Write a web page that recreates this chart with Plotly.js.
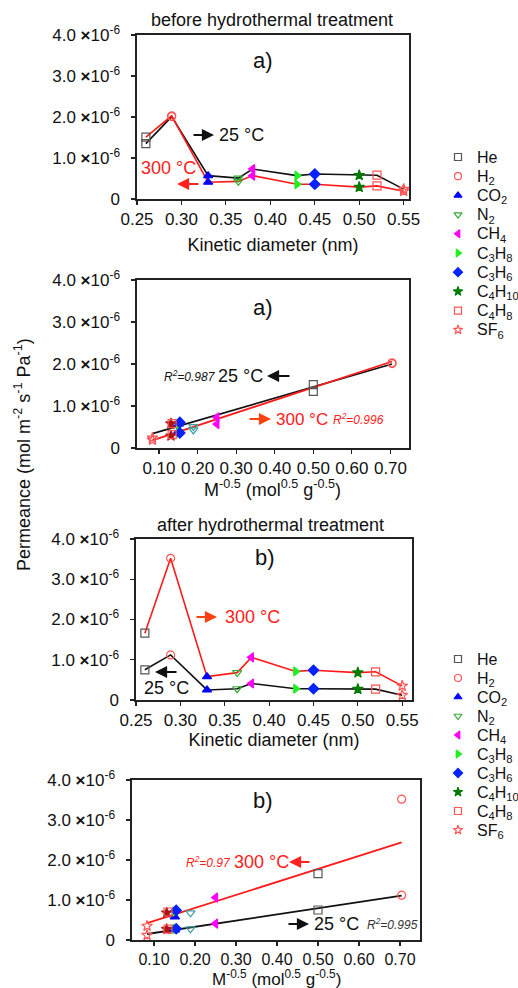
<!DOCTYPE html>
<html>
<head>
<meta charset="utf-8">
<script src="https://cdn.plot.ly/plotly-3.0.1.min.js"></script>
<style>
html,body{margin:0;padding:0;background:#fff;}
#chart{width:518px;height:988px;}
</style>
</head>
<body>
<div id="chart"></div>
<script>
// ---------------- data ----------------
const gases = ['He', 'H<sub>2</sub>', 'CO<sub>2</sub>', 'N<sub>2</sub>', 'CH<sub>4</sub>', 'C<sub>3</sub>H<sub>8</sub>', 'C<sub>3</sub>H<sub>6</sub>', 'C<sub>4</sub>H<sub>10</sub>', 'C<sub>4</sub>H<sub>8</sub>', 'SF<sub>6</sub>'];
const kineticDiameter = [0.26, 0.289, 0.33, 0.364, 0.38, 0.43, 0.45, 0.50, 0.52, 0.55];   // nm
const invSqrtM = [0.500, 0.704, 0.151, 0.189, 0.250, 0.151, 0.154, 0.131, 0.134, 0.083];    // mol^0.5 g^-0.5
// permeance, units of 1e-6 mol m-2 s-1 Pa-1
const before25  = [1.35, 2.01, 0.57, 0.51, 0.73, 0.57, 0.61, 0.58, 0.58, 0.24];
const before300 = [1.51, 2.03, 0.41, 0.43, 0.57, 0.36, 0.36, 0.29, 0.32, 0.19];
const after25   = [0.75, 1.12, 0.25, 0.28, 0.41, 0.28, 0.28, 0.27, 0.27, 0.12];
const after300  = [1.66, 3.52, 0.58, 0.68, 1.06, 0.71, 0.74, 0.68, 0.70, 0.35];
// fitted lines (end points)
const fitX = [0.083, 0.704];
const fitBefore25  = [0.34, 2.00];
const fitBefore300 = [0.18, 2.06];
const fitAfter25   = [0.15, 1.11];
const fitAfter300  = [0.42, 2.44];
const yTickVals = [0, 1, 2, 3, 4];
const yTickText = ['0', '1.0 <b>×</b>10<sup>-6</sup>', '2.0 <b>×</b>10<sup>-6</sup>', '3.0 <b>×</b>10<sup>-6</sup>', '4.0 <b>×</b>10<sup>-6</sup>'];

// ---------------- styles ----------------
const E6 = 1e-6;
const sc = a => a.map(v => v * E6);
const symbols = ['square-open','circle-open','triangle-up','triangle-down-open','triangle-left','triangle-right','diamond','star','square-open','star-open'];
const colorsKD = ['#555555','#ff5555','#0000ff','#33aa33','#ff00ff','#22ee22','#0022ff','#007a00','#ff5555','#ff5555'];
const colorsM  = ['#555555','#ff5555','#0000ff','#3aa0a0','#ff00ff','#22ee22','#0022ff','#aa1515','#ff5555','#ff5555'];
const W = 518, H = 988;
const FONT = 'Liberation Sans, Arial, Helvetica, sans-serif';

const traces = [];
function panel(xa, ya, xs, y25, y300, lines, colors) {
  if (lines === 'connect') {
    traces.push({x: xs, y: sc(y25), xaxis: xa, yaxis: ya, mode: 'lines', line: {color: '#111', width: 1.6}, hoverinfo: 'skip'});
    traces.push({x: xs, y: sc(y300), xaxis: xa, yaxis: ya, mode: 'lines', line: {color: '#ff1a1a', width: 1.6}, hoverinfo: 'skip'});
  } else {
    traces.push({x: fitX, y: sc(lines[0]), xaxis: xa, yaxis: ya, mode: 'lines', line: {color: '#111', width: 1.8}, hoverinfo: 'skip'});
    traces.push({x: fitX, y: sc(lines[1]), xaxis: xa, yaxis: ya, mode: 'lines', line: {color: '#ff1a1a', width: 1.8}, hoverinfo: 'skip'});
  }
  gases.forEach((g, i) => {
    traces.push({
      x: [xs[i], xs[i]], y: [y25[i] * E6, y300[i] * E6], xaxis: xa, yaxis: ya,
      mode: 'markers', name: g, cliponaxis: false,
      marker: {symbol: symbols[i], color: colors[i], size: 8, line: {color: colors[i], width: 1.2}}
    });
  });
}
panel('x', 'y', kineticDiameter, before25, before300, 'connect', colorsKD);
panel('x2', 'y2', invSqrtM, before25, before300, [fitBefore25, fitBefore300], colorsM);
panel('x3', 'y3', kineticDiameter, after25, after300, 'connect', colorsKD);
panel('x4', 'y4', invSqrtM, after25, after300, [fitAfter25, fitAfter300], colorsM);

// legend keys: a marker column on small category axes, gas names as tick labels
function legendKeys(xa, ya) {
  traces.push({x: gases.map(() => 0), y: gases, xaxis: xa, yaxis: ya, mode: 'markers', cliponaxis: false, hoverinfo: 'skip',
    marker: {symbol: symbols, size: 7, color: colorsKD, line: {color: colorsKD, width: 1.2}}});
}
legendKeys('x5', 'y5');
legendKeys('x6', 'y6');

const dx = (a, b) => [a / W, b / W];
const dy = (t, b) => [1 - b / H, 1 - t / H];
const baseAx = {showline: true, mirror: true, linecolor: '#222', linewidth: 1.6, ticks: 'outside', ticklen: 4, tickwidth: 1.2, tickcolor: '#222', showgrid: false, zeroline: false, tickfont: {size: 17, color: '#111'}};
function xAx(dom, range, tick0, dtick, title, anchor, standoff) {
  const ax = Object.assign({}, baseAx, {domain: dom, range: range, tick0: tick0, dtick: dtick, tickformat: '.2f', anchor: anchor});
  if (title) ax.title = {text: title, font: {size: 18, color: '#111'}, standoff: standoff};
  return ax;
}
function yAx(dom, anchor) {
  return Object.assign({}, baseAx, {domain: dom, range: [0, 4e-6], tickmode: 'array', tickvals: yTickVals.map(v => v * E6), ticktext: yTickText, anchor: anchor, ticklabelstandoff: 8});
}
function keyX(anchor) {
  return {domain: dx(450, 466), range: [-1, 1], visible: false, anchor: anchor, fixedrange: true};
}
function keyY(dom, anchor) {
  return {domain: dom, type: 'category', categoryarray: gases, categoryorder: 'array', range: [9.5, -0.5], side: 'right', anchor: anchor,
    tickmode: 'array', tickvals: gases, ticktext: gases,
    showline: false, showgrid: false, zeroline: false, ticks: '', ticklabelstandoff: 10, tickfont: {size: 16, color: '#111'}};
}
const kdTitle = 'Kinetic diameter (nm)';
const mTitle = 'M<sup>-0.5</sup> (mol<sup>0.5</sup> g<sup>-0.5</sup>)';

function txt(x, y, text, size, color, extra) {
  return Object.assign({xref: 'paper', yref: 'paper', x: x / W, y: 1 - y / H, text: text, showarrow: false, xanchor: 'center', yanchor: 'middle',
    font: {size: size, color: color, family: FONT}}, extra || {});
}
function arrow(hx, y, tx, color) {
  return {xref: 'paper', yref: 'paper', x: hx / W, y: 1 - y / H, ax: tx - hx, ay: 0, axref: 'pixel', ayref: 'pixel', text: '', showarrow: true,
    arrowhead: 2, arrowsize: 1.1, arrowwidth: 2.2, arrowcolor: color};
}
const RED = '#ff2020', ORANGE = '#ff4010';
const annotations = [
  txt(272, 20, 'before hydrothermal treatment', 18, '#111'),
  txt(263, 60, 'a)', 22, '#111'),
  arrow(214, 135, 192, '#111'),
  txt(217, 135, '25 °C', 18, '#111', {xanchor: 'left'}),
  txt(168, 168, '300 °C', 18, RED),
  arrow(177, 184, 200, RED),

  txt(263, 307, 'a)', 22, '#111'),
  txt(190, 376, '<i>R<sup>2</sup>=0.987</i>', 12, '#111'),
  txt(240, 376, '25 °C', 18, '#111'),
  arrow(267, 376, 291, '#111'),
  arrow(271, 419, 248, ORANGE),
  txt(274, 419, '300 °C', 17, RED, {xanchor: 'left'}),
  txt(331, 419, '<i>R<sup>2</sup>=0.996</i>', 12, RED, {xanchor: 'left'}),
  txt(272, 488, mTitle, 18, '#111'),

  txt(270, 525, 'after hydrothermal treatment', 18, '#111'),
  txt(265, 557, 'b)', 22, '#111'),
  arrow(217, 617, 195, ORANGE),
  txt(223, 617, '300 °C', 18, RED, {xanchor: 'left'}),
  arrow(155, 672, 178, '#111'),
  txt(166, 688, '25 °C', 18, '#111'),

  txt(263, 800, 'b)', 22, '#111'),
  txt(208, 862, '<i>R<sup>2</sup>=0.97</i>', 12, RED),
  txt(261, 862, '300 °C', 18, RED),
  arrow(289, 862, 311, RED),
  arrow(309, 924, 287, '#111'),
  txt(336, 924, '25 °C', 18, '#111'),
  txt(392, 924, '<i>R<sup>2</sup>=0.995</i>', 12, '#333'),
  txt(276, 991, mTitle, 17, '#111', {yanchor: 'bottom'}),

  txt(22, 455, 'Permeance (mol m<sup>-2</sup> s<sup>-1</sup> Pa<sup>-1</sup>)', 18, '#111', {textangle: -90})
];

const ax4x = xAx(dx(132, 420), [0.0463, 0.7488], 0.1, 0.1, null, 'y4');
ax4x.tickfont = {size: 16, color: '#111'};

const layout = {
  width: W, height: H, margin: {l: 0, r: 0, t: 0, b: 0}, paper_bgcolor: '#fff', plot_bgcolor: 'rgba(0,0,0,0)',
  font: {family: FONT, color: '#111'},
  showlegend: false,
  xaxis: xAx(dx(137, 409), [0.25, 0.556], 0.25, 0.05, kdTitle, 'y', 10),
  yaxis: yAx(dy(35, 199), 'x'),
  xaxis2: xAx(dx(137, 409), [0.043, 0.748], 0.1, 0.1, null, 'y2'),
  yaxis2: yAx(dy(280, 448), 'x2'),
  xaxis3: xAx(dx(136, 412), [0.25, 0.561], 0.25, 0.05, kdTitle, 'y3', 4),
  yaxis3: yAx(dy(539, 700), 'x3'),
  xaxis4: ax4x,
  yaxis4: yAx(dy(780, 940), 'x4'),
  xaxis5: keyX('y5'),
  yaxis5: keyY(dy(147.4, 339.4), 'x5'),
  xaxis6: keyX('y6'),
  yaxis6: keyY(dy(649.5, 839.5), 'x6'),
  annotations: annotations
};
Plotly.newPlot('chart', traces, layout, {displayModeBar: false, staticPlot: true});
</script>
</body>
</html>
